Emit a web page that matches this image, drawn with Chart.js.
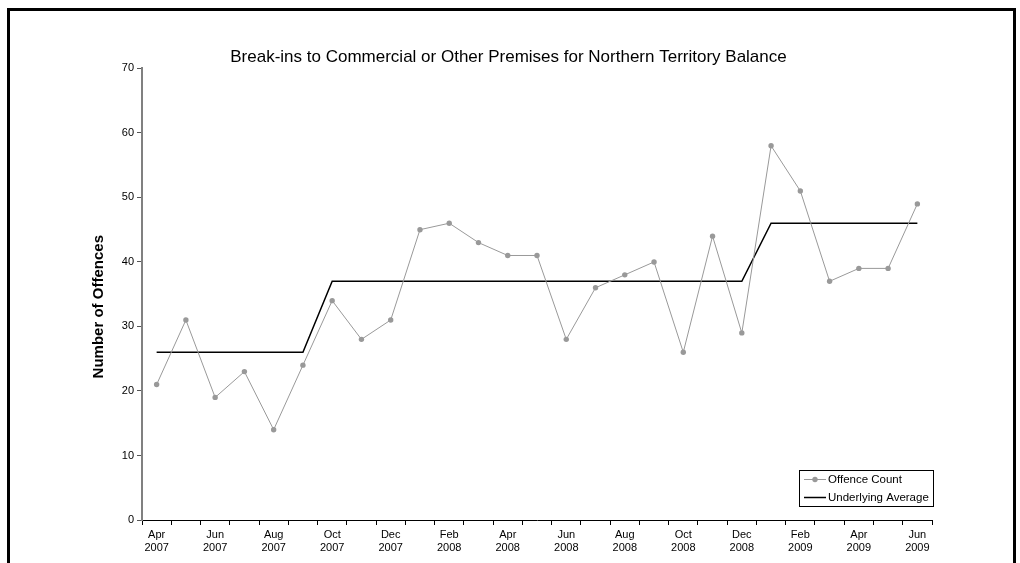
<!DOCTYPE html>
<html>
<head>
<meta charset="utf-8">
<script src="https://cdn.jsdelivr.net/npm/chart.js@4/dist/chart.umd.min.js"></script>
<style>
  html, body { margin: 0; padding: 0; background: #fff; overflow: hidden; }
  #frame {
    position: absolute; left: 7px; top: 8px;
    width: 1003px; height: 600px;
    border: 3px solid #000; border-bottom: none;
  }
  #wrap { position: absolute; left: 0; top: 0; width: 1020px; height: 563px; }
</style>
</head>
<body>
<div id="frame"></div>
<div id="wrap"><canvas id="chart" width="1020" height="563"></canvas></div>
<script>
// Monthly categories, April 2007 to June 2009
const categories = [
  'Apr 2007', 'May 2007', 'Jun 2007', 'Jul 2007', 'Aug 2007', 'Sep 2007',
  'Oct 2007', 'Nov 2007', 'Dec 2007', 'Jan 2008', 'Feb 2008', 'Mar 2008',
  'Apr 2008', 'May 2008', 'Jun 2008', 'Jul 2008', 'Aug 2008', 'Sep 2008',
  'Oct 2008', 'Nov 2008', 'Dec 2008', 'Jan 2009', 'Feb 2009', 'Mar 2009',
  'Apr 2009', 'May 2009', 'Jun 2009'
];

const offenceCount = [
  21, 31, 19, 23, 14, 24,
  34, 28, 31, 45, 46, 43,
  41, 41, 28, 36, 38, 40,
  26, 44, 29, 58, 51, 37,
  39, 39, 49
];

const underlyingAverage = [
  26, 26, 26, 26, 26, 26,
  37, 37, 37, 37, 37, 37,
  37, 37, 37, 37, 37, 37,
  37, 37, 37, 46, 46, 46,
  46, 46, 46
];

const yTicks = [0, 10, 20, 30, 40, 50, 60, 70];

const FONT = 'Liberation Sans, Arial, sans-serif';

// legend box drawn inside the plot area, bottom right
const boxLegend = {
  id: 'boxLegend',
  afterDraw(chart) {
    const ctx = chart.ctx;
    const area = chart.chartArea;
    const w = 134, h = 36;
    const x = area.right - w + 1;
    const y = area.bottom - 50;
    ctx.save();
    ctx.fillStyle = '#fff';
    ctx.fillRect(x, y, w, h);
    ctx.strokeStyle = '#000';
    ctx.lineWidth = 1;
    ctx.strokeRect(x + 0.5, y + 0.5, w, h);
    ctx.font = '11.5px ' + FONT;
    ctx.textBaseline = 'middle';
    chart.data.datasets.forEach((ds, i) => {
      const cy = y + 9.5 + i * 18;
      ctx.strokeStyle = ds.borderColor;
      ctx.lineWidth = ds.borderWidth;
      ctx.beginPath();
      ctx.moveTo(x + 5, cy);
      ctx.lineTo(x + 27, cy);
      ctx.stroke();
      if (ds.pointRadius > 0) {
        ctx.fillStyle = ds.pointBackgroundColor;
        ctx.beginPath();
        ctx.arc(x + 16, cy, ds.pointRadius, 0, Math.PI * 2);
        ctx.fill();
      }
      ctx.fillStyle = '#000';
      ctx.fillText(ds.label, x + 29, cy);
    });
    ctx.restore();
  }
};

new Chart(document.getElementById('chart'), {
  type: 'line',
  data: {
    labels: categories,
    datasets: [
      {
        label: 'Offence Count',
        data: offenceCount,
        borderColor: '#999999',
        borderWidth: 1,
        pointRadius: 2.7,
        pointBackgroundColor: '#999999',
        pointBorderWidth: 0,
        tension: 0
      },
      {
        label: 'Underlying Average',
        data: underlyingAverage,
        borderColor: '#000000',
        borderWidth: 1.5,
        pointRadius: 0,
        tension: 0
      }
    ]
  },
  options: {
    responsive: false,
    animation: false,
    layout: { padding: { left: 85, right: 88, top: 0, bottom: 0 } },
    plugins: {
      legend: { display: false },
      tooltip: { enabled: false },
      title: {
        display: true,
        text: 'Break-ins to Commercial or Other Premises for Northern Territory Balance',
        color: '#000',
        font: { family: FONT, size: 17, weight: 'normal' },
        padding: { top: 47, bottom: 1 }
      }
    },
    scales: {
      x: {
        type: 'category',
        offset: true,
        grid: {
          offset: true,
          drawOnChartArea: false,
          drawTicks: true,
          tickLength: 5,
          color: '#000'
        },
        border: { color: '#000', width: 1 },
        ticks: {
          autoSkip: false,
          maxRotation: 0,
          minRotation: 0,
          padding: 3,
          color: '#000',
          font: { family: FONT, size: 11 },
          callback: function (value, index) {
            return index % 2 === 0 ? categories[index].split(' ') : '';
          }
        },
        afterFit: function (scale) { scale.height = 43; }
      },
      y: {
        min: 0,
        max: 70,
        afterBuildTicks: function (scale) {
          scale.ticks = yTicks.map(v => ({ value: v }));
        },
        grid: {
          drawOnChartArea: false,
          drawTicks: true,
          tickLength: 5,
          color: '#555'
        },
        border: { color: '#808080', width: 2 },
        ticks: {
          padding: 3,
          color: '#000',
          font: { family: FONT, size: 11 }
        },
        title: {
          display: true,
          // trailing spaces nudge the rotated title a little below centre, as in the original
          text: 'Number of Offences      ',
          color: '#000',
          font: { family: FONT, size: 15, weight: 'bold' },
          padding: { top: 5, bottom: 0 }
        },
        afterFit: function (scale) { scale.width = 57; }
      }
    }
  },
  plugins: [boxLegend]
});
</script>
</body>
</html>
